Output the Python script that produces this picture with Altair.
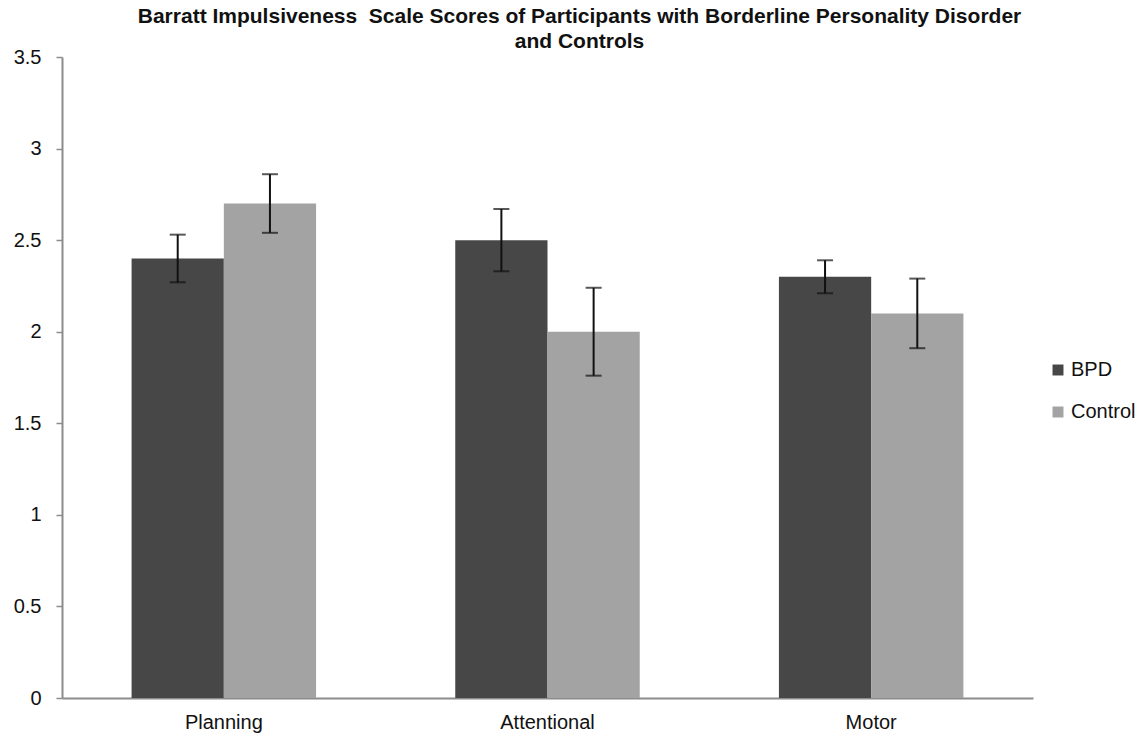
import altair as alt
import pandas as pd

# Barratt Impulsiveness Scale subscale means and error margins
categories = ["Planning", "Attentional", "Motor"]
groups = ["BPD", "Control"]
bpd_means = [2.4, 2.5, 2.3]
bpd_err = [0.13, 0.17, 0.09]
control_means = [2.7, 2.0, 2.1]
control_err = [0.16, 0.24, 0.19]

rows = []
for i, cat in enumerate(categories):
    rows.append({"scale": cat, "group": "BPD", "mean": bpd_means[i], "err": bpd_err[i]})
    rows.append({"scale": cat, "group": "Control", "mean": control_means[i], "err": control_err[i]})
df = pd.DataFrame(rows)
df["lo"] = df["mean"] - df["err"]
df["hi"] = df["mean"] + df["err"]

FONT = "Liberation Sans, Arial, sans-serif"

x_enc = alt.X(
    "scale:N",
    sort=categories,
    scale=alt.Scale(paddingInner=0.43, paddingOuter=0.215),
    axis=alt.Axis(
        title=None, labelAngle=0, ticks=False, domainColor="#8c8c8c", domainWidth=2,
        labelFont=FONT, labelFontSize=20, labelColor="#111111", labelPadding=14,
    ),
)
off_enc = alt.XOffset("group:N", sort=groups, scale=alt.Scale(paddingInner=0, paddingOuter=0))

base = alt.Chart(df)

bars = base.mark_bar().encode(
    x=x_enc,
    xOffset=off_enc,
    y=alt.Y(
        "mean:Q",
        scale=alt.Scale(domain=[0, 3.5], nice=False),
        axis=alt.Axis(
            title=None, values=[0, 0.5, 1, 1.5, 2, 2.5, 3, 3.5], grid=False,
            labelExpr="toString(datum.value)", domainColor="#8c8c8c", domainWidth=2,
            tickColor="#8c8c8c", tickSize=6, tickWidth=1.5,
            labelFont=FONT, labelFontSize=20,
            labelColor="#111111", labelPadding=15,
        ),
    ),
    color=alt.Color(
        "group:N",
        sort=groups,
        scale=alt.Scale(domain=groups, range=["#474747", "#a3a3a3"]),
        legend=alt.Legend(
            title=None, orient="none", legendX=986, legendY=303,
            symbolType="square", symbolSize=120, symbolStrokeWidth=0,
            labelFont=FONT, labelFontSize=20, labelColor="#111111",
            rowPadding=22, labelOffset=3,
        ),
    ),
)

whiskers = base.mark_rule(color="#111111", strokeWidth=2).encode(
    x=alt.X("scale:N", sort=categories),
    xOffset=off_enc,
    y="lo:Q",
    y2="hi:Q",
)

caps_hi = base.mark_tick(color="#111111", thickness=2, size=16, orient="horizontal").encode(
    x=alt.X("scale:N", sort=categories),
    xOffset=off_enc,
    y="hi:Q",
)
caps_lo = base.mark_tick(color="#111111", thickness=2, size=16, orient="horizontal").encode(
    x=alt.X("scale:N", sort=categories),
    xOffset=off_enc,
    y="lo:Q",
)

chart = (
    alt.layer(bars, whiskers, caps_hi, caps_lo)
    .properties(
        width=971,
        height=641,
        title=alt.TitleParams(
            text=[
                "Barratt Impulsiveness\u00a0 Scale Scores of Participants with Borderline Personality Disorder",
                "and Controls",
            ],
            font=FONT, fontSize=21, fontWeight="bold", color="#111111",
            anchor="middle", dx=32, dy=11, offset=6, lineHeight=25,
        ),
        autosize=alt.AutoSizeParams(type="none"),
        padding={"left": 62, "top": 57, "right": 108, "bottom": 39},
        background="white",
    )
    .configure_view(stroke=None)
)

chart.save("out.html", embed_options={"renderer": "svg", "actions": False})
